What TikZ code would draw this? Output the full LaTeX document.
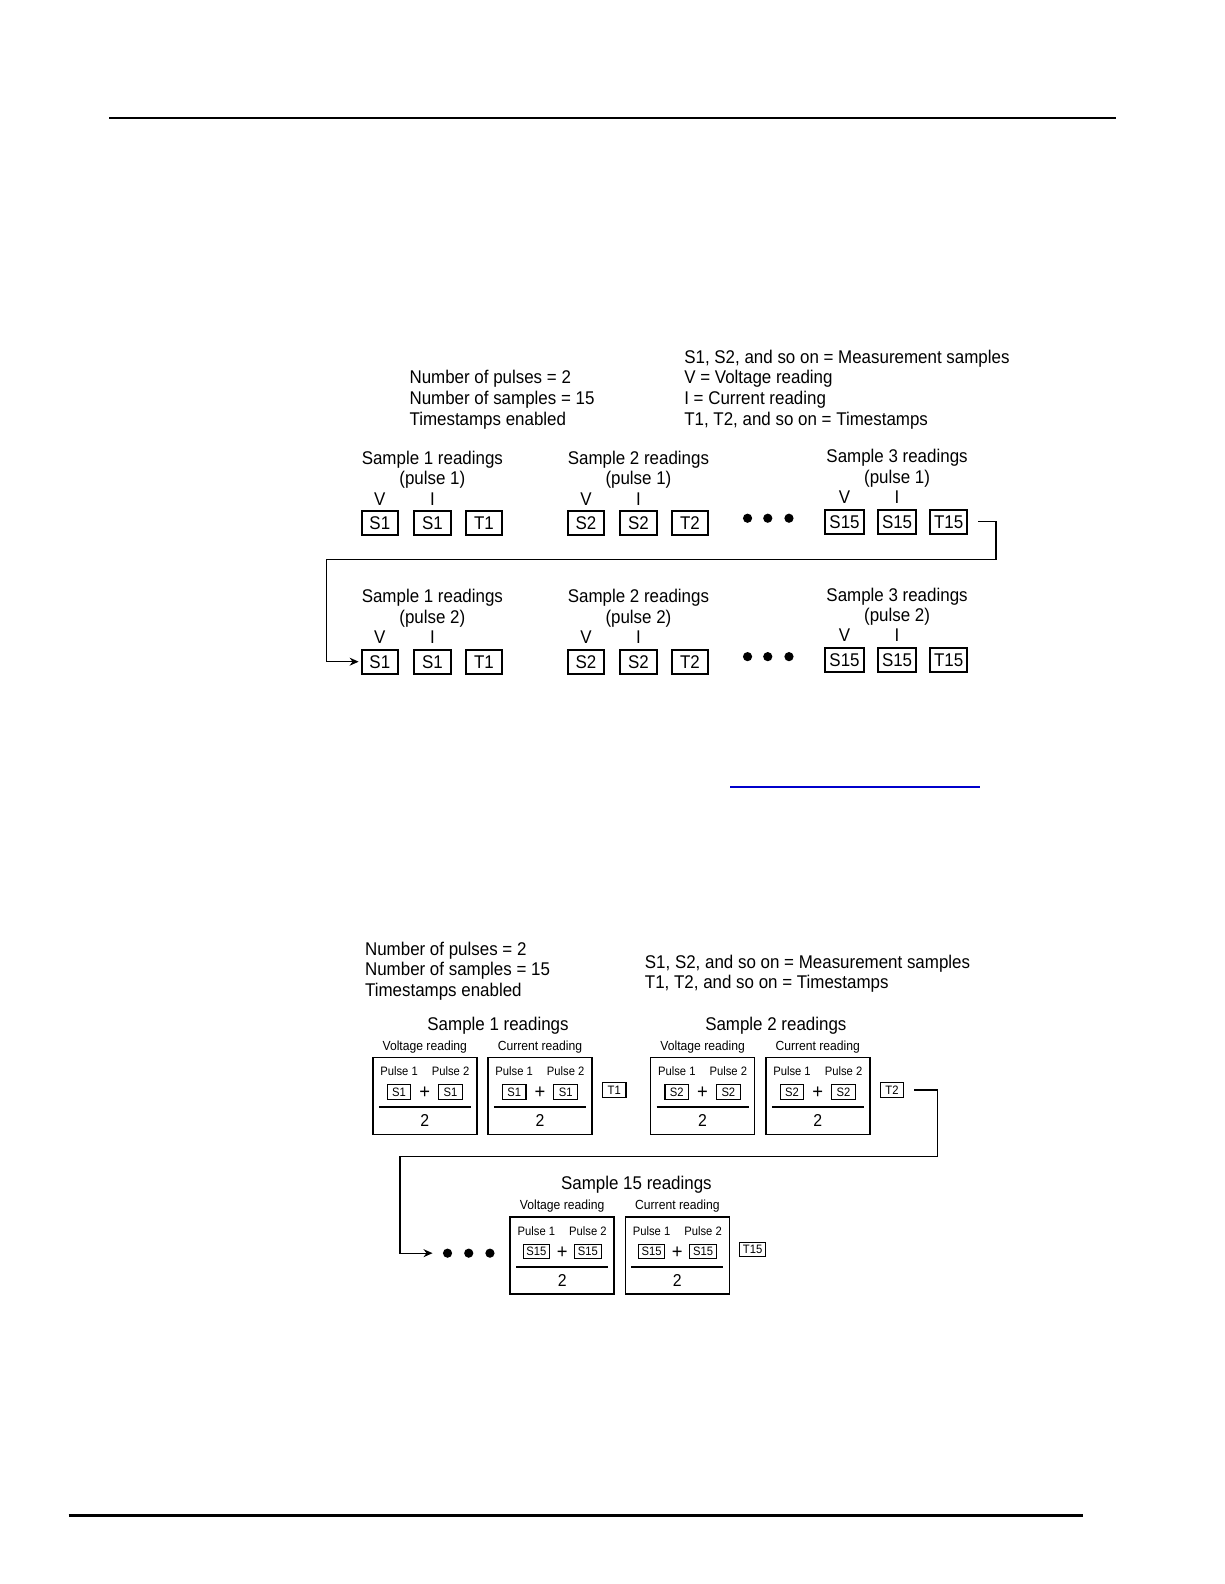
\documentclass[tikz,border=0pt]{standalone}
\usepackage{fontspec}
\setmainfont[FakeStretch=0.92]{Liberation Sans}
\usetikzlibrary{arrows.meta,positioning}

\tikzset{
  lbl/.style={inner sep=0pt, anchor=base, font=\fontsize{9.2}{11}\selectfont},
  kindlbl/.style={inner sep=0pt, anchor=base, font=\fontsize{6.6}{8}\selectfont},
  tiny/.style={inner sep=0pt, anchor=base, font=\fontsize{6.1}{7}\selectfont},
  rdbox/.style={draw, line width=1pt, minimum width=18.2pt, minimum height=12pt,
    inner xsep=2pt, inner ysep=0pt, font=\fontsize{9.2}{11}\selectfont},
  avgbox/.style={draw, line width=0.8pt, minimum width=52pt, minimum height=38.4pt, inner sep=0pt},
  sbox/.style={draw, line width=0.55pt, minimum width=11.8pt, minimum height=7.2pt,
    inner xsep=1.6pt, inner ysep=0pt, font=\fontsize{6.1}{7}\selectfont},
  plus/.style={inner sep=0pt, font=\fontsize{10}{10}\selectfont},
  denom/.style={inner sep=0pt, anchor=base, font=\fontsize{8.6}{10}\selectfont},
  dot/.style={circle, fill, inner sep=0pt, minimum size=4.6pt},
  wire/.style={line width=0.6pt},
  wirearrow/.style={wire, -{Stealth[length=4.5pt,width=4pt]}, shorten >=1pt}
}

\begin{document}
\begin{tikzpicture}[x=0.50495pt, y=-0.50495pt]
\useasboundingbox (0,0) rectangle (1212,1568);

% page rules
\draw[line width=0.75pt] (108,117) -- (1105,117);
\draw[line width=1.3pt] (68,1500) -- (1072,1500);
\draw[line width=0.6pt, blue!80!black] (723,779) -- (970,779);

% ---- first figure: readings of each pulse ----
\foreach \t [count=\k] in {Number of pulses = 2, Number of samples = 15, Timestamps enabled}{
  \node[lbl, anchor=base west] (setA\k) at (405,359.7+20.4*\k) {\t};
}
\foreach \t [count=\k] in {{S1, S2, and so on = Measurement samples}, V = Voltage reading,
    I = Current reading, {T1, T2, and so on = Timestamps}}{
  \node[lbl, anchor=base west] (keyA\k) at (677,339.3+20.4*\k) {\t};
}

\foreach \p/\y in {1/453, 2/590}{
  \foreach \g/\s/\cx/\dy in {1/1/428/0, 2/2/632/0, 3/15/888/-1.5}{
    \node[lbl] (P\p title\g) at (\cx,\y+6.5+\dy) {Sample \g\ readings};
    \node[lbl] (P\p pulse\g) at (\cx,\y+27+\dy) {(pulse \p)};
    \node[lbl] (P\p vlab\g) at (\cx-52,\y+47+\dy) {V};
    \node[lbl] (P\p ilab\g) at (\cx,\y+47+\dy) {I};
    \node[rdbox] (P\p V\g) at (\cx-52,\y+65+\dy) {S\s};
    \node[rdbox] (P\p I\g) at (\cx,\y+65+\dy) {S\s};
    \node[rdbox] (P\p T\g) at (\cx+51,\y+65+\dy) {T\s};
  }
  \foreach \x [count=\k] in {740,760,781}{
    \node[dot] (P\p dot\k) at (\x,\y+60) {};
  }
}

\coordinate (turnA1) at (986,554);
\coordinate (turnA2) at (323,554);
\draw[wirearrow] ([xshift=5pt]P1T3.east) -| (turnA1) -- (turnA2) |- (P2V1.west);

% ---- second figure: averaged readings ----
\foreach \t [count=\k] in {Number of pulses = 2, Number of samples = 15, Timestamps enabled}{
  \node[lbl, anchor=base west] (setB\k) at (361,925+20.4*\k) {\t};
}
\node[lbl, anchor=base west] (keyB1) at (638,958.5) {S1, S2, and so on = Measurement samples};
\node[lbl, anchor=base west] (keyB2) at (638,978.9) {T1, T2, and so on = Timestamps};

\foreach \n/\cx/\ty/\kind/\s in {a/420.5/1047/Voltage/S1, b/534.5/1047/Current/S1,
    c/695.5/1047/Voltage/S2, d/809.5/1047/Current/S2,
    e/556.5/1205/Voltage/S15, f/670.5/1205/Current/S15}{
  \node[avgbox] (box\n) at (\cx,\ty+38) {};
  \node[kindlbl] (kind\n) at (\cx,\ty-7.5) {\kind\ reading};
  \node[tiny] (pa\n) at (\cx-25.5,\ty+18) {Pulse 1};
  \node[tiny] (pb\n) at (\cx+25.5,\ty+18) {Pulse 2};
  \node[sbox] (sa\n) at (\cx-25.5,\ty+34) {\s};
  \node[sbox] (sb\n) at (\cx+25.5,\ty+34) {\s};
  \node[plus] (plus\n) at (\cx,\ty+35) {+};
  \draw[line width=1pt] (\cx-45.5,\ty+49) -- (\cx+45.5,\ty+49);
  \node[denom] (den\n) at (\cx,\ty+68) {2};
}
\node[sbox] (tsa) at (608,1079) {T1};
\node[sbox] (tsb) at (883,1079) {T2};
\node[sbox] (tsc) at (745,1237) {T15};

\node[lbl] (avgtitle1) at (493,1020.5) {Sample 1 readings};
\node[lbl] (avgtitle2) at (768,1020.5) {Sample 2 readings};
\node[lbl] (avgtitle15) at (630,1177.5) {Sample 15 readings};

\foreach \x [count=\k] in {443,464,485}{
  \node[dot] (avgdot\k) at (\x,1240.5) {};
}

\coordinate (turnB1) at (928,1145);
\coordinate (turnB2) at (396,1145);
\draw[wirearrow] ([xshift=5pt]tsb.east) -| (turnB1) -- (turnB2) |- ([xshift=-4pt]avgdot1.west);

\end{tikzpicture}
\end{document}
